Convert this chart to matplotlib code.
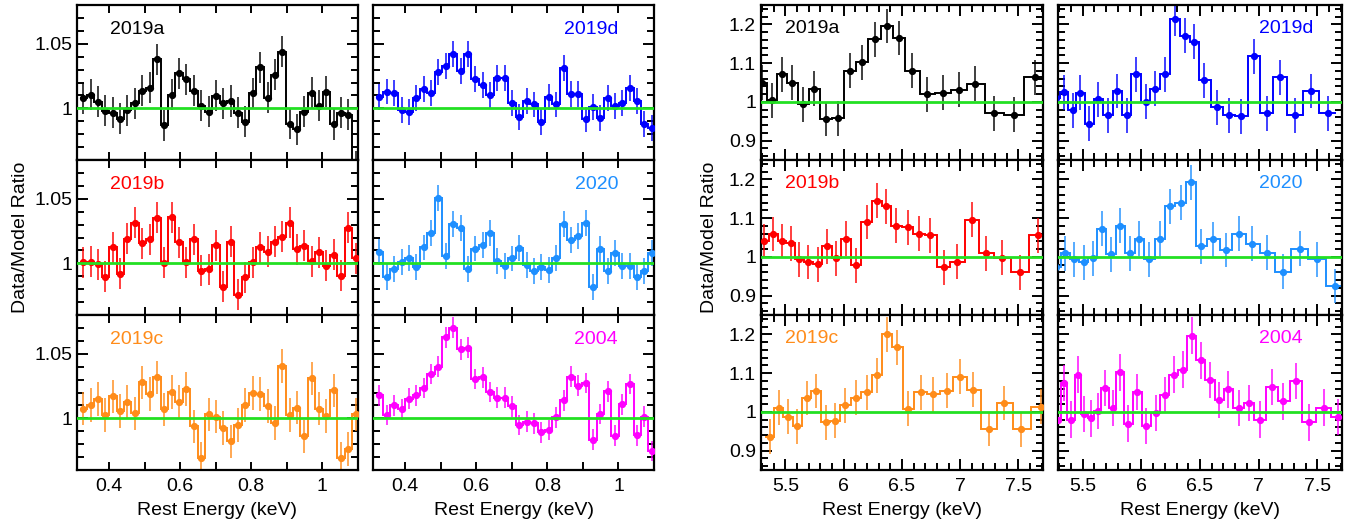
import matplotlib
matplotlib.use("Agg")
import matplotlib.pyplot as plt
import numpy as np
from matplotlib.ticker import MultipleLocator, FuncFormatter

plt.rcParams["font.family"] = ["Liberation Sans", "DejaVu Sans"]

# soft band (0.3-1.1 keV), all epochs share the same bins
soft_energy = [0.328, 0.349, 0.369, 0.390, 0.411, 0.432, 0.452, 0.473, 0.494, 0.514,
               0.535, 0.556, 0.576, 0.597, 0.618, 0.639, 0.659, 0.680, 0.701, 0.721,
               0.742, 0.763, 0.783, 0.804, 0.825, 0.846, 0.866, 0.887, 0.908, 0.928,
               0.949, 0.970, 0.990, 1.011, 1.032, 1.053, 1.073, 1.094]

soft_2019a = [1.0078, 1.0104, 1.0050, 0.9980, 0.9966, 0.9920, 0.9987, 1.0040, 1.0135, 1.0160,
              1.0380, 0.9870, 1.0104, 1.0270, 1.0227, 1.0135, 1.0020, 0.9974, 1.0099, 1.0040,
              1.0057, 0.9966, 0.9896, 1.0117, 1.0320, 1.0083, 1.0260, 1.0440, 0.9880, 0.9840,
              0.9974, 1.0120, 1.0020, 1.0130, 0.9878, 0.9966, 0.9950, 0.9550]
soft_2019b = [1.0008, 1.0013, 0.9995, 0.9897, 1.0123, 0.9918, 1.0192, 1.0315, 1.0154, 1.0187,
              1.0354, 1.0003, 1.0359, 1.0162, 1.0008, 1.0187, 0.9944, 0.9956, 1.0141, 0.9820,
              1.0169, 0.9756, 0.9892, 1.0008, 1.0123, 1.0090, 1.0167, 1.0205, 1.0315, 1.0110,
              1.0136, 1.0015, 1.0085, 0.9982, 1.0067, 0.9905, 1.0277, 1.0038]
soft_2019c = [1.0076, 1.0102, 1.0152, 1.0025, 1.0170, 1.0056, 1.0127, 1.0038, 1.0279, 1.0190,
              1.0317, 1.0069, 1.0203, 1.0127, 1.0228, 0.9937, 0.9690, 1.0030, 1.0013, 0.9924,
              0.9822, 0.9949, 1.0102, 1.0198, 1.0190, 1.0094, 0.9962, 1.0406, 1.0025, 1.0084,
              0.9860, 1.0310, 1.0076, 1.0018, 1.0216, 0.9690, 0.9764, 1.0030]
soft_2019d = [1.0090, 1.0130, 1.0120, 0.9987, 0.9974, 1.0083, 1.0150, 1.0117, 1.0280, 1.0330,
              1.0420, 1.0286, 1.0424, 1.0227, 1.0180, 1.0104, 1.0234, 1.0234, 1.0044, 0.9935,
              1.0057, 1.0030, 0.9896, 1.0090, 1.0030, 1.0310, 1.0110, 1.0110, 0.9914, 1.0013,
              0.9927, 1.0078, 1.0018, 1.0044, 1.0160, 1.0057, 0.9878, 0.9850]
soft_2020 = [1.0090, 0.9897, 0.9956, 1.0008, 1.0044, 0.9969, 1.0123, 1.0233, 1.0508, 1.0059,
             1.0308, 1.0272, 0.9956, 1.0115, 1.0141, 1.0238, 1.0018, 0.9982, 1.0038, 1.0118,
             0.9987, 0.9944, 0.9969, 0.9951, 1.0041, 1.0308, 1.0182, 1.0213, 1.0310, 0.9820,
             1.0110, 0.9944, 1.0079, 0.9982, 0.9982, 0.9892, 0.9944, 1.0079]
soft_2004 = [1.0178, 1.0025, 1.0102, 1.0071, 1.0152, 1.0178, 1.0234, 1.0343, 1.0401, 1.0627,
             1.0703, 1.0533, 1.0546, 1.0305, 1.0317, 1.0203, 1.0160, 1.0160, 1.0094, 0.9949,
             0.9975, 0.9962, 0.9891, 0.9911, 1.0008, 1.0140, 1.0322, 1.0254, 1.0274, 0.9835,
             1.0033, 1.0208, 0.9865, 1.0109, 1.0266, 0.9868, 1.0013, 0.9746]

# hard band (5.3-7.7 keV), each epoch has its own bins
hard_2019a_energy = [5.300, 5.385, 5.471, 5.557, 5.651, 5.749, 5.849, 5.952, 6.057, 6.158, 6.266,
                     6.372, 6.472, 6.587, 6.716, 6.850, 6.987, 7.130, 7.288, 7.459, 7.645]
hard_2019a = [1.050, 1.004, 1.071, 1.050, 0.994, 1.034, 0.956, 0.958, 1.081, 1.102, 1.162,
              1.196, 1.165, 1.080, 1.020, 1.024, 1.031, 1.047, 0.971, 0.967, 1.064]
hard_2019b_energy = [5.316, 5.396, 5.473, 5.545, 5.620, 5.695, 5.778, 5.858, 5.938, 6.020, 6.106,
                     6.200, 6.286, 6.364, 6.452, 6.552, 6.644, 6.744, 6.858, 6.973, 7.102, 7.222,
                     7.360, 7.511, 7.668]
hard_2019b = [1.041, 1.059, 1.041, 1.035, 0.994, 0.987, 0.981, 1.028, 0.997, 1.047, 0.979,
              1.090, 1.145, 1.131, 1.081, 1.077, 1.060, 1.056, 0.973, 0.988, 1.096, 1.009,
              0.998, 0.960, 1.056]
hard_2019c_energy = [5.364, 5.444, 5.522, 5.602, 5.682, 5.765, 5.845, 5.925, 6.011, 6.108, 6.197,
                     6.283, 6.369, 6.460, 6.554, 6.660, 6.769, 6.883, 6.997, 7.112, 7.246, 7.380,
                     7.526, 7.698]
hard_2019c = [0.936, 1.011, 0.987, 0.963, 1.036, 1.054, 0.973, 0.977, 1.017, 1.037, 1.051,
              1.095, 1.200, 1.167, 1.008, 1.051, 1.045, 1.055, 1.091, 1.057, 0.956, 1.023,
              0.955, 1.013]
hard_2019d_energy = [5.274, 5.342, 5.414, 5.480, 5.558, 5.635, 5.716, 5.796, 5.874, 5.955, 6.037,
                     6.118, 6.205, 6.291, 6.371, 6.452, 6.538, 6.642, 6.746, 6.853, 6.960, 7.069,
                     7.178, 7.308, 7.443, 7.587]
hard_2019d = [1.009, 1.025, 0.978, 1.024, 0.944, 1.007, 0.966, 1.028, 0.966, 1.071, 1.000,
              1.034, 1.071, 1.215, 1.171, 1.155, 1.056, 0.986, 0.965, 0.963, 1.118, 0.971,
              1.064, 0.965, 1.028, 0.971]
hard_2020_energy = [5.276, 5.351, 5.428, 5.509, 5.586, 5.664, 5.739, 5.822, 5.903, 5.983, 6.069,
                    6.162, 6.248, 6.334, 6.420, 6.512, 6.613, 6.723, 6.831, 6.947, 7.068, 7.206,
                    7.349, 7.493, 7.651]
hard_2020 = [0.975, 1.009, 0.994, 0.986, 0.997, 1.073, 1.007, 1.081, 1.009, 1.047, 0.994,
             1.047, 1.131, 1.140, 1.193, 1.028, 1.045, 1.018, 1.060, 1.034, 1.011, 0.962,
             1.021, 0.994, 0.925]
hard_2004_energy = [5.290, 5.342, 5.399, 5.463, 5.514, 5.572, 5.629, 5.692, 5.759, 5.816, 5.888,
                    5.966, 6.038, 6.124, 6.199, 6.277, 6.354, 6.429, 6.507, 6.584, 6.665, 6.742,
                    6.829, 6.918, 7.010, 7.116, 7.211, 7.318, 7.427, 7.556, 7.680]
hard_2004 = [0.980, 1.075, 0.980, 1.096, 0.994, 0.983, 1.003, 1.061, 1.010, 1.102, 0.970,
             1.051, 0.964, 0.997, 1.044, 1.096, 1.109, 1.197, 1.133, 1.082, 1.031, 1.058,
             1.010, 1.023, 0.980, 1.064, 1.027, 1.079, 0.973, 1.011, 0.987]

# typical 1-sigma error per panel
soft_err = {"2019a": 0.012, "2019b": 0.012, "2019c": 0.013, "2019d": 0.010, "2020": 0.010, "2004": 0.008}
hard_err = {"2019a": 0.045, "2019b": 0.045, "2019c": 0.045, "2019d": 0.045, "2020": 0.045, "2004": 0.047}

colors = {"2019a": "#000000", "2019b": "#ff0000", "2019c": "#ff8c1a",
          "2019d": "#0000ff", "2020": "#1e8fff", "2004": "#ff00ff"}


def bin_edges(x):
    x = np.asarray(x)
    mids = (x[1:] + x[:-1]) / 2
    return np.concatenate([[2 * x[0] - mids[0]], mids, [2 * x[-1] - mids[-1]]])


def style_axes(ax, soft, show_x, show_y):
    if soft:
        ax.set_xlim(0.31, 1.10)
        ax.set_ylim(0.96, 1.08)
        ax.xaxis.set_major_locator(MultipleLocator(0.2))
        ax.xaxis.set_minor_locator(MultipleLocator(0.1))
        ax.yaxis.set_major_locator(MultipleLocator(0.05))
        ax.yaxis.set_minor_locator(MultipleLocator(0.01))
    else:
        ax.set_xlim(5.29, 7.71)
        ax.set_ylim(0.85, 1.25)
        ax.xaxis.set_major_locator(MultipleLocator(0.5))
        ax.xaxis.set_minor_locator(MultipleLocator(0.1))
        ax.yaxis.set_major_locator(MultipleLocator(0.1))
        ax.yaxis.set_minor_locator(MultipleLocator(0.02))
    fmt = FuncFormatter(lambda v, p: f"{v:.10g}")
    ax.xaxis.set_major_formatter(fmt)
    ax.yaxis.set_major_formatter(fmt)
    ax.tick_params(which="both", direction="in", top=True, right=True, width=1.4, labelsize=14)
    ax.tick_params(which="major", length=8)
    ax.tick_params(which="minor", length=5)
    ax.tick_params(axis="x", which="major", length=6 if soft else 8, pad=6)
    if soft:
        ax.tick_params(axis="x", which="minor", length=6)
    ax.tick_params(labelbottom=show_x, labelleft=show_y)
    for s in ax.spines.values():
        s.set_linewidth(1.6)
    if show_x:
        ax.set_xlabel("Rest Energy (keV)", fontsize=14, labelpad=5)


def draw_panel(ax, x, y, err, color):
    ax.stairs(y, bin_edges(x), baseline=None, color=color, lw=1.4, zorder=2)
    ax.errorbar(x, y, yerr=err, fmt="none", ecolor=color, elinewidth=1.4, alpha=0.75, zorder=2)
    ax.plot(x, y, "o", color=color, ms=4.2, zorder=3)
    ax.axhline(1.0, color="#22e022", lw=2, zorder=4)


fig = plt.figure(figsize=(13.62, 5.28), dpi=100)

col_left = [0.0565, 0.2739, 0.5587, 0.7768]
col_width = [0.2063, 0.2063, 0.2070, 0.2085]
row_bottom = [0.6969, 0.4033, 0.1098]
row_h = 0.2936

soft_data = [[("2019a", soft_2019a), ("2019d", soft_2019d)],
             [("2019b", soft_2019b), ("2020", soft_2020)],
             [("2019c", soft_2019c), ("2004", soft_2004)]]
hard_data = [[("2019a", hard_2019a_energy, hard_2019a), ("2019d", hard_2019d_energy, hard_2019d)],
             [("2019b", hard_2019b_energy, hard_2019b), ("2020", hard_2020_energy, hard_2020)],
             [("2019c", hard_2019c_energy, hard_2019c), ("2004", hard_2004_energy, hard_2004)]]

for r in range(3):
    for c in range(2):
        name, vals = soft_data[r][c]
        ax = fig.add_axes([col_left[c], row_bottom[r], col_width[c], row_h])
        draw_panel(ax, soft_energy, vals, soft_err[name], colors[name])
        style_axes(ax, True, r == 2, c == 0)
        if c == 0:
            ax.text(0.117, 0.84, name, transform=ax.transAxes, color=colors[name],
                    fontsize=14, ha="left", va="center")
        else:
            ax.text(0.872, 0.84, name, transform=ax.transAxes, color=colors[name],
                    fontsize=14, ha="right", va="center")
        if r == 1 and c == 0:
            ax.set_ylabel("Data/Model Ratio", fontsize=14, labelpad=4)

        name, xs, vals = hard_data[r][c]
        ax = fig.add_axes([col_left[c + 2], row_bottom[r], col_width[c + 2], row_h])
        draw_panel(ax, xs, vals, hard_err[name], colors[name])
        style_axes(ax, False, r == 2, c == 0)
        ax.text(0.085 if c == 0 else 0.708, 0.85, name, transform=ax.transAxes,
                color=colors[name], fontsize=14, ha="left", va="center")
        if r == 1 and c == 0:
            ax.set_ylabel("Data/Model Ratio", fontsize=14, labelpad=8)

fig.savefig("out.png", dpi=100)
